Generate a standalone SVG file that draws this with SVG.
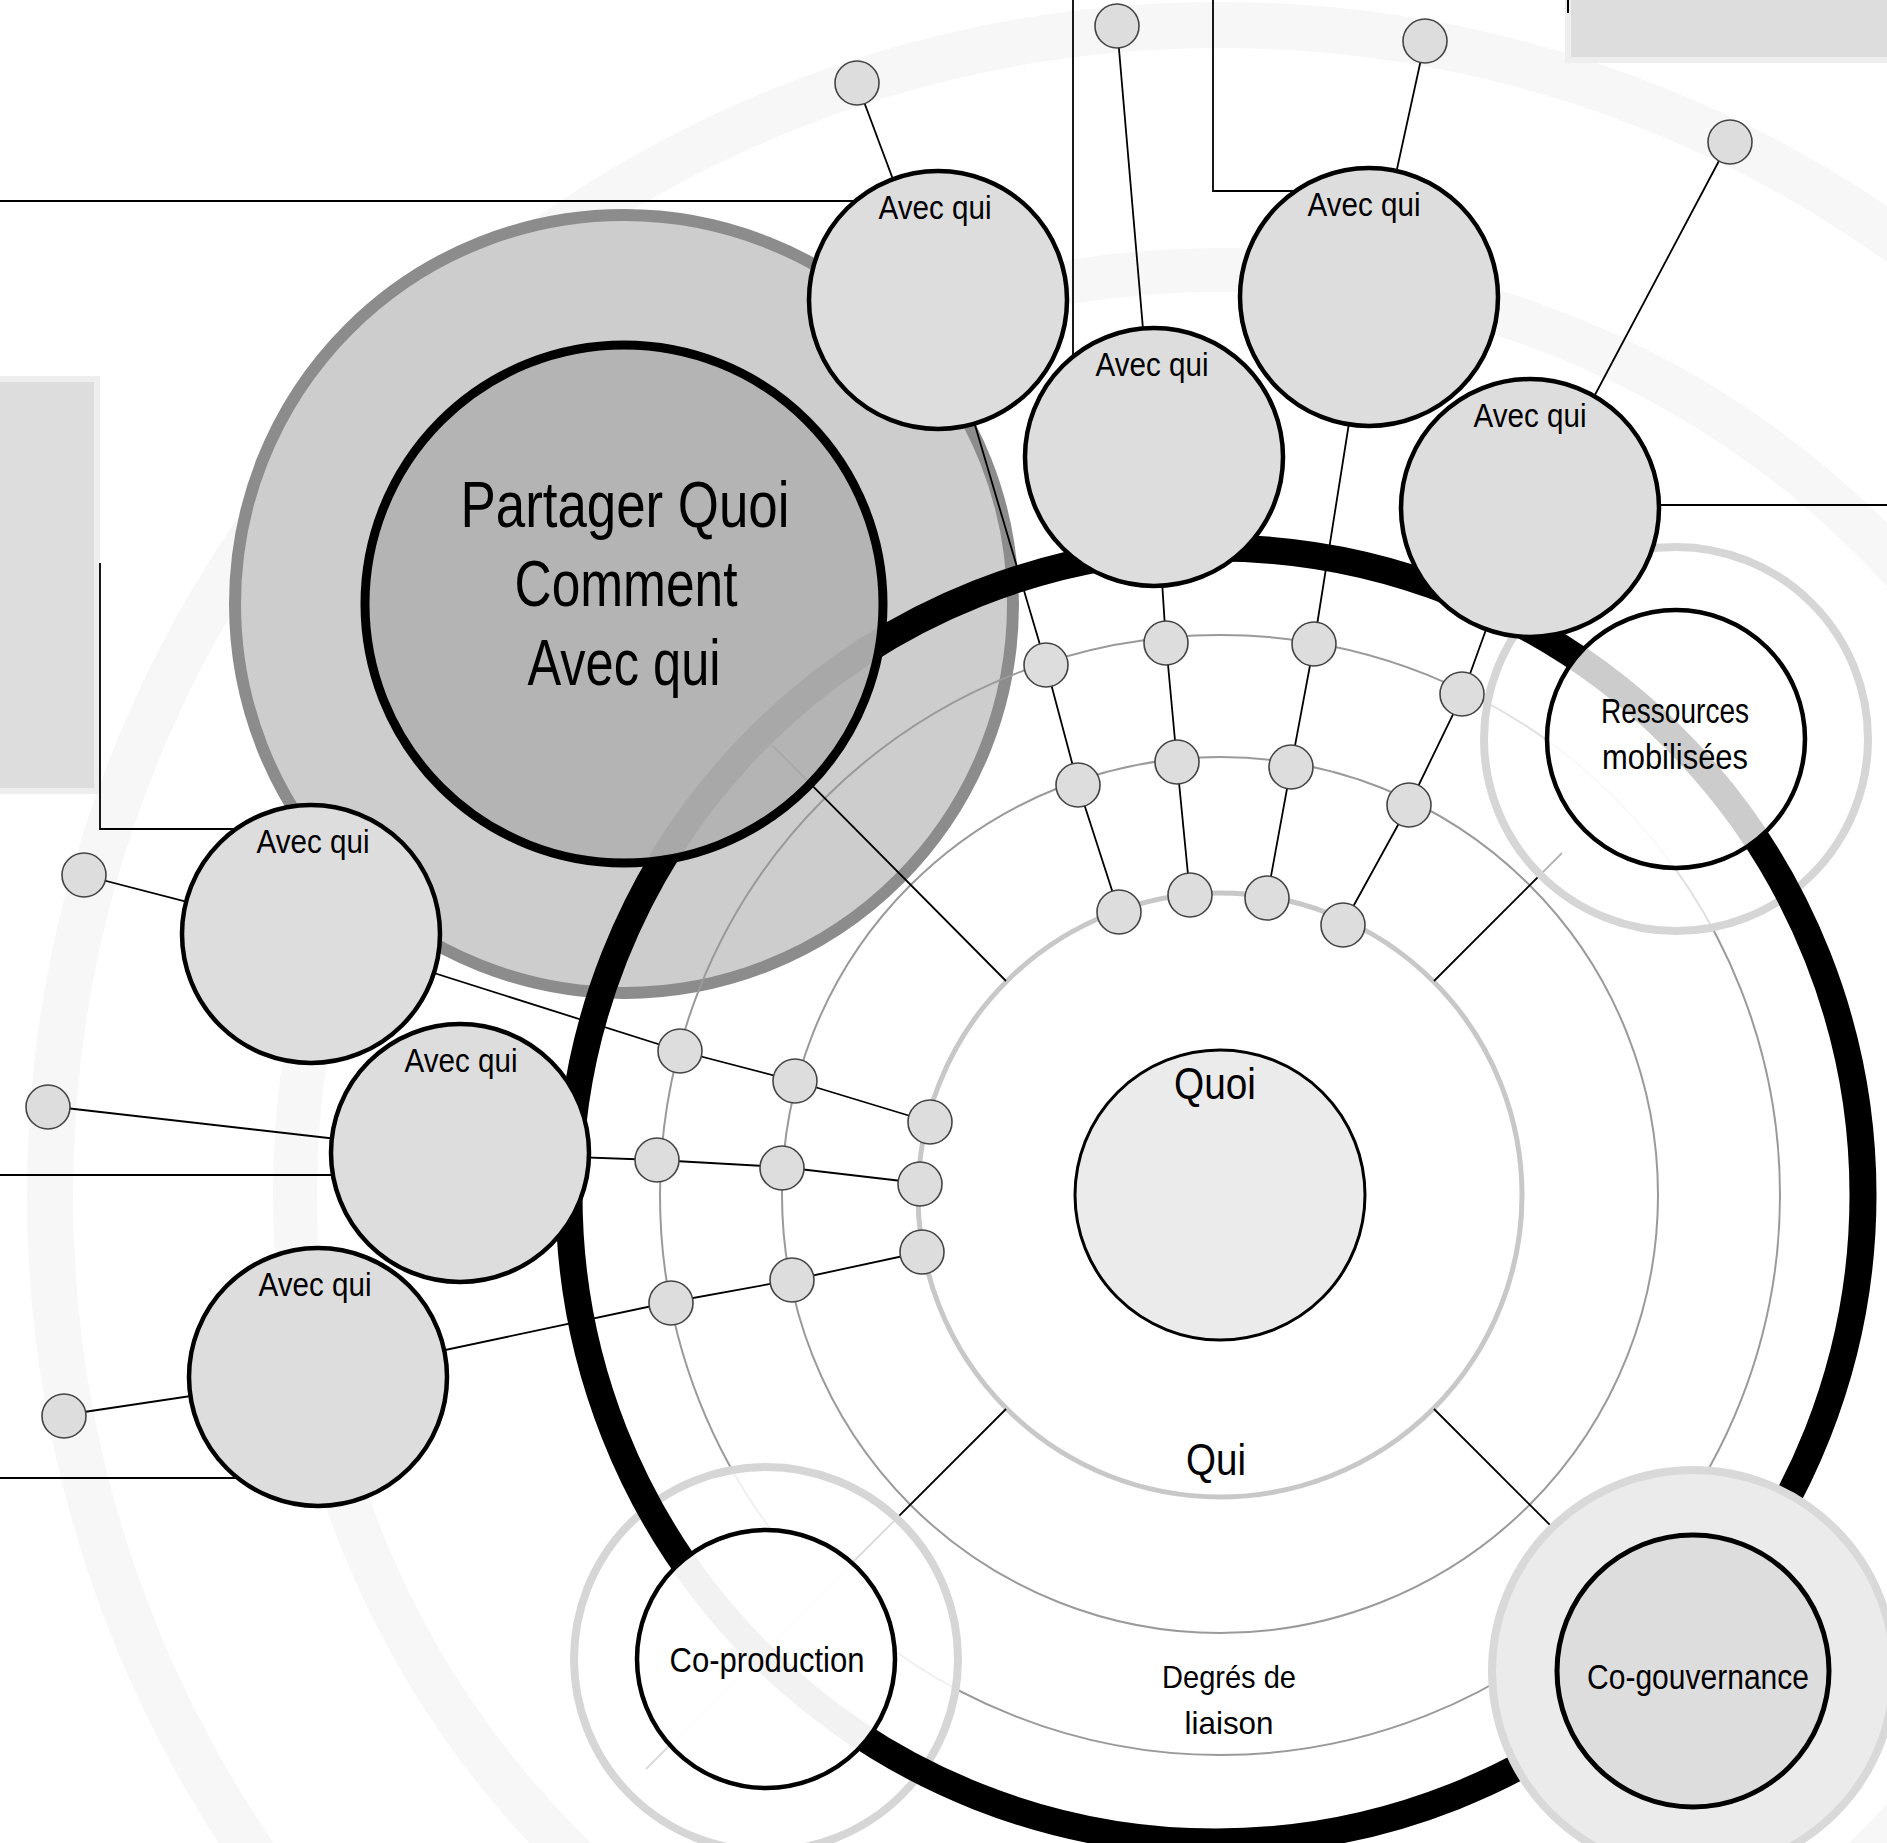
<svg xmlns="http://www.w3.org/2000/svg" width="1887" height="1843" viewBox="0 0 1887 1843">
<style>
.t{font-family:"Liberation Sans",Arial,sans-serif;fill:#000;text-anchor:middle}
.avec{fill:#dddddd;stroke:#000;stroke-width:4.5}
.dot{fill:#dddddd;stroke:#444;stroke-width:1.6}
.conn{fill:none;stroke:#000;stroke-width:1.8}
.band{fill:none;stroke:#f7f7f7}
.thin{fill:none;stroke:#9a9a9a;stroke-width:2}
.grect{fill:#dddddd;stroke:#eeeeee;stroke-width:6}
</style>
<rect width="1887" height="1843" fill="#fff"/>
<g id="background">
<circle class="band" cx="1220" cy="1195" r="1170" stroke-width="46"/>
<circle class="band" cx="1220" cy="1195" r="925" stroke-width="44"/>
<rect class="grect" x="-10" y="379" width="107" height="412"/>
<rect class="grect" x="1568" y="-10" width="330" height="70"/>
</g>
<g id="halo">
<circle cx="624" cy="604" r="389" fill="#cdcdcd" stroke="#8c8c8c" stroke-width="12"/>
</g>
<g id="rings">
<circle class="thin" cx="1220" cy="1195" r="560"/>
<circle class="thin" cx="1220" cy="1195" r="438"/>
<circle cx="1220" cy="1195" r="302" fill="none" stroke="#c8c8c8" stroke-width="5"/>
<line class="conn" x1="1006" y1="981" x2="772" y2="745"/>
<line class="conn" x1="1434" y1="981" x2="1562" y2="853"/>
<line class="conn" x1="1006" y1="1409" x2="646" y2="1769"/>
<line class="conn" x1="1434" y1="1409" x2="1560" y2="1535"/>
</g>
<g id="outer-disks">
<circle cx="1676" cy="739" r="192" fill="#fff" fill-opacity="0.7" stroke="#d6d6d6" stroke-width="8"/>
<circle cx="766" cy="1659" r="192" fill="#fff" fill-opacity="0.85" stroke="#d6d6d6" stroke-width="8"/>
</g>
<g id="main-ring">
<circle cx="1216" cy="1195" r="647" fill="none" stroke="#000" stroke-width="27"/>
</g>
<g id="partager">
<circle cx="624" cy="604" r="259" fill="#b3b3b3" fill-opacity="0.94" stroke="#000" stroke-width="9"/>
<text class="t" x="625" y="527" font-size="64" textLength="329" lengthAdjust="spacingAndGlyphs">Partager Quoi</text>
<text class="t" x="626" y="606" font-size="64" textLength="223" lengthAdjust="spacingAndGlyphs">Comment</text>
<text class="t" x="624" y="685" font-size="64" textLength="193" lengthAdjust="spacingAndGlyphs">Avec qui</text>
</g>
<g id="connectors">
<polyline class="conn" points="0,201 855,201"/>
<polyline class="conn" points="100,563 100,829 236,829"/>
<polyline class="conn" points="1073,0 1073,357"/>
<polyline class="conn" points="1213,0 1213,191 1295,191"/>
<polyline class="conn" points="1656,505 1887,505"/>
<polyline class="conn" points="0,1175 332,1175"/>
<polyline class="conn" points="0,1478 240,1478"/>
<line x1="1568" y1="0" x2="1568" y2="13" stroke="#000" stroke-width="2"/>
<polyline class="conn" points="857,83 938,300"/>
<polyline class="conn" points="938,300 1046,665 1078,785 1119,912"/>
<polyline class="conn" points="1117,26 1154,457"/>
<polyline class="conn" points="1154,457 1166,643 1177,762 1190,895"/>
<polyline class="conn" points="1425,41 1369,297"/>
<polyline class="conn" points="1369,297 1314,644 1291,767 1267,898"/>
<polyline class="conn" points="1729,142 1535,508"/>
<polyline class="conn" points="1530,508 1462,696 1409,805 1343,925"/>
<polyline class="conn" points="83,875 311,934"/>
<polyline class="conn" points="311,934 680,1051 795,1081 930,1122"/>
<polyline class="conn" points="48,1106 460,1153"/>
<polyline class="conn" points="460,1153 657,1160 782,1167 919,1183"/>
<polyline class="conn" points="64,1415 318,1377"/>
<polyline class="conn" points="318,1377 671,1302 792,1280 922,1252"/>
</g>
<g id="dots">
<circle class="dot" cx="857" cy="83" r="22"/>
<circle class="dot" cx="1117" cy="26" r="22"/>
<circle class="dot" cx="1425" cy="41" r="22"/>
<circle class="dot" cx="1730" cy="142" r="22"/>
<circle class="dot" cx="84" cy="875" r="22"/>
<circle class="dot" cx="48" cy="1107" r="22"/>
<circle class="dot" cx="64" cy="1416" r="22"/>
<circle class="dot" cx="1046" cy="665" r="22"/>
<circle class="dot" cx="1166" cy="643" r="22"/>
<circle class="dot" cx="1314" cy="644" r="22"/>
<circle class="dot" cx="1462" cy="694" r="22"/>
<circle class="dot" cx="1078" cy="785" r="22"/>
<circle class="dot" cx="1177" cy="762" r="22"/>
<circle class="dot" cx="1291" cy="767" r="22"/>
<circle class="dot" cx="1409" cy="805" r="22"/>
<circle class="dot" cx="1119" cy="912" r="22"/>
<circle class="dot" cx="1190" cy="895" r="22"/>
<circle class="dot" cx="1267" cy="898" r="22"/>
<circle class="dot" cx="1343" cy="925" r="22"/>
<circle class="dot" cx="680" cy="1051" r="22"/>
<circle class="dot" cx="657" cy="1160" r="22"/>
<circle class="dot" cx="671" cy="1303" r="22"/>
<circle class="dot" cx="795" cy="1081" r="22"/>
<circle class="dot" cx="782" cy="1168" r="22"/>
<circle class="dot" cx="792" cy="1280" r="22"/>
<circle class="dot" cx="930" cy="1122" r="22"/>
<circle class="dot" cx="920" cy="1184" r="22"/>
<circle class="dot" cx="922" cy="1252" r="22"/>
</g>
<g id="avec1"><circle class="avec" cx="938" cy="300" r="129"/><text class="t" x="935" y="219" font-size="34" textLength="113" lengthAdjust="spacingAndGlyphs">Avec qui</text></g>
<g id="avec2"><circle class="avec" cx="1154" cy="457" r="129"/><text class="t" x="1152" y="376" font-size="34" textLength="113" lengthAdjust="spacingAndGlyphs">Avec qui</text></g>
<g id="avec3"><circle class="avec" cx="1369" cy="297" r="129"/><text class="t" x="1364" y="216" font-size="34" textLength="113" lengthAdjust="spacingAndGlyphs">Avec qui</text></g>
<g id="avec4"><circle class="avec" cx="1530" cy="508" r="129"/><text class="t" x="1530" y="427" font-size="34" textLength="113" lengthAdjust="spacingAndGlyphs">Avec qui</text></g>
<g id="avec5"><circle class="avec" cx="311" cy="934" r="129"/><text class="t" x="313" y="853" font-size="34" textLength="113" lengthAdjust="spacingAndGlyphs">Avec qui</text></g>
<g id="avec6"><circle class="avec" cx="460" cy="1153" r="129"/><text class="t" x="461" y="1072" font-size="34" textLength="113" lengthAdjust="spacingAndGlyphs">Avec qui</text></g>
<g id="avec7"><circle class="avec" cx="318" cy="1377" r="129"/><text class="t" x="315" y="1296" font-size="34" textLength="113" lengthAdjust="spacingAndGlyphs">Avec qui</text></g>
<g id="ressources">
<circle cx="1676" cy="739" r="129" fill="#fff" fill-opacity="0.8" stroke="#000" stroke-width="4.5"/>
<text class="t" x="1675" y="723" font-size="35" textLength="148" lengthAdjust="spacingAndGlyphs">Ressources</text>
<text class="t" x="1675" y="769" font-size="35" textLength="146" lengthAdjust="spacingAndGlyphs">mobilisées</text>
</g>
<g id="coproduction">
<circle cx="766" cy="1659" r="129" fill="#fff" fill-opacity="0.95" stroke="#000" stroke-width="4.5"/>
<text class="t" x="767" y="1672" font-size="35" textLength="195" lengthAdjust="spacingAndGlyphs">Co-production</text>
</g>
<g id="cogouvernance">
<circle cx="1693" cy="1671" r="201" fill="#ebebeb" stroke="#d9d9d9" stroke-width="8"/>
<circle cx="1693" cy="1671" r="136" fill="#dddddd" stroke="#000" stroke-width="5"/>
<text class="t" x="1698" y="1689" font-size="35" textLength="222" lengthAdjust="spacingAndGlyphs">Co-gouvernance</text>
</g>
<g id="quoi">
<circle cx="1220" cy="1195" r="145" fill="#ebebeb" stroke="#000" stroke-width="3"/>
<text class="t" x="1215" y="1099" font-size="45" textLength="82" lengthAdjust="spacingAndGlyphs">Quoi</text>
</g>
<g id="qui"><text class="t" x="1216" y="1475" font-size="45" textLength="60" lengthAdjust="spacingAndGlyphs">Qui</text></g>
<g id="degres">
<text class="t" x="1229" y="1688" font-size="32" textLength="134" lengthAdjust="spacingAndGlyphs">Degrés de</text>
<text class="t" x="1229" y="1734" font-size="32" textLength="89" lengthAdjust="spacingAndGlyphs">liaison</text>
</g>
</svg>
